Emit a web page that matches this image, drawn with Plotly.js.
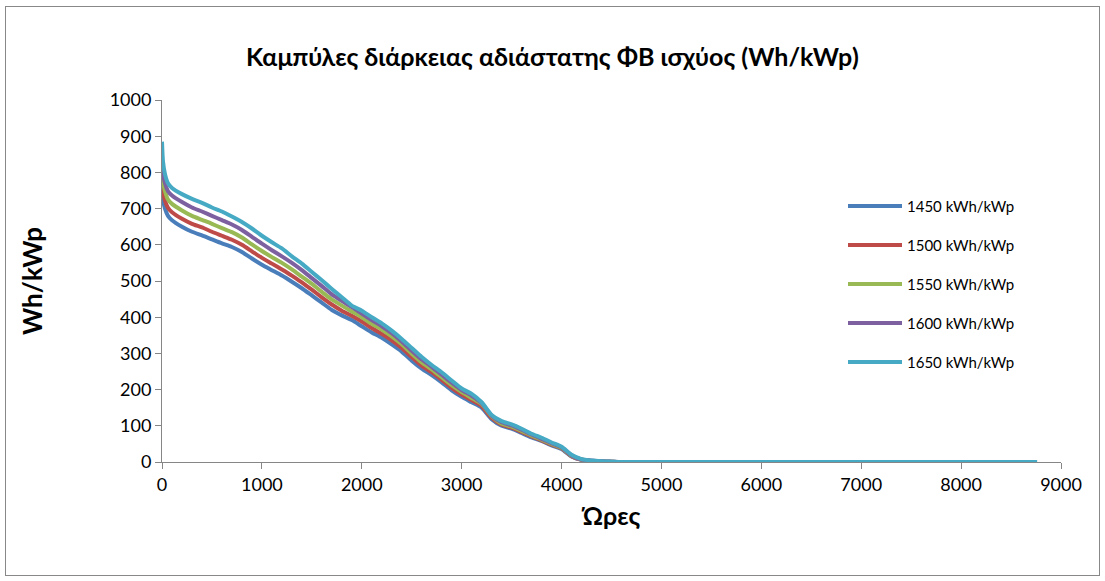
<!DOCTYPE html>
<html>
<head>
<meta charset="utf-8">
<script src="https://cdn.plot.ly/plotly-3.0.1.min.js"></script>
<style>
  html, body { margin: 0; padding: 0; background: #fff; }
  #wrap { position: relative; width: 1105px; height: 581px; }
  #chart { position: absolute; left: 0; top: 0; width: 1105px; height: 581px; }
  #frame { position: absolute; left: 5px; top: 6px; width: 1093px; height: 568px; border: 1px solid #888; pointer-events: none; }
</style>
</head>
<body>
<div id="wrap"><div id="chart"></div><div id="frame"></div></div>
<script>
const hours = [0,10,30,60,100,200,300,400,500,600,700,800,900,1000,1100,1200,1300,1400,1500,1600,1700,1800,1900,2000,2100,2200,2300,2400,2500,2600,2700,2800,2900,3000,3100,3200,3300,3400,3500,3600,3700,3800,3900,4000,4100,4200,4300,4400,4500,4600,5000,6000,7000,8000,8760];

const s1450 = [755,725,700,680,668,650,636,626,615,604,594,580,562,545,530,515,498,480,460,440,420,405,392,375,358,343,325,305,280,258,240,220,198,180,165,150,118,100,92,80,68,58,46,36,15,6,3,1.5,0.5,0,0,0,0,0,0];
const s1500 = [785,750,722,702,690,672,658,648,636,625,614,600,582,564,548,532,515,496,476,455,435,418,404,388,370,354,336,315,290,266,248,227,205,186,171,155,122,103,95,83,71,60,48,38,16,6,3,1.5,0.5,0,0,0,0,0,0];
const s1550 = [810,775,748,725,713,695,680,669,658,646,635,620,601,583,566,550,532,512,492,470,449,432,416,400,382,366,347,325,299,275,256,234,212,193,177,160,126,106,98,86,73,62,50,39,17,7,3,1.5,0.5,0,0,0,0,0,0];
const s1600 = [835,800,770,748,736,718,703,692,680,668,656,641,622,603,585,568,550,530,508,486,463,445,428,410,392,375,356,333,307,283,263,241,219,199,183,163,128,110,101,89,76,64,52,41,18,7,4,2,1,0,0,0,0,0,0];
const s1650 = [885,830,795,770,757,740,727,716,703,692,678,663,645,625,607,590,568,548,525,502,478,455,432,418,400,383,363,340,315,290,268,248,225,203,188,165,130,113,104,92,78,67,54,42,20,8,4,2,1,0,0,0,0,0,0];

const seriesNames = ["1450 kWh/kWp","1500 kWh/kWp","1550 kWh/kWp","1600 kWh/kWp","1650 kWh/kWp"];
const seriesValues = [s1450, s1500, s1550, s1600, s1650];
const colors = ["#4A7EBB","#BE4B48","#98B954","#7D60A0","#46AAC5"];

const xTicks = [0,1000,2000,3000,4000,5000,6000,7000,8000,9000];
const yTicks = [0,100,200,300,400,500,600,700,800,900,1000];

const titleText = "Καμπύλες διάρκειας αδιάστατης ΦΒ ισχύος (Wh/kWp)";
const xTitle = "Ώρες";
const yTitle = "Wh/kWp";

const FONT = "Lato, 'Open Sans', sans-serif";

const traces = seriesNames.map((n, i) => ({
  type: "scatter",
  mode: "lines",
  name: n,
  x: hours,
  y: seriesValues[i],
  legendgroup: "g" + i,
  line: { color: colors[i], width: 4, shape: "spline", smoothing: 0.6 },
  hoverinfo: "skip"
}));

const layout = {
  width: 1105,
  height: 581,
  margin: { l: 162, r: 44, t: 100, b: 119 },
  paper_bgcolor: "#fff",
  plot_bgcolor: "#fff",
  font: { family: FONT, size: 18, color: "#000" },
  title: {
    text: "<b>" + titleText + "</b>",
    font: { family: FONT, size: 25, color: "#000" },
    x: 0.5, xanchor: "center", xref: "container",
    y: 1 - 57 / 581, yanchor: "middle", yref: "container"
  },
  xaxis: {
    range: [0, 9000],
    tickvals: xTicks,
    ticks: "outside", ticklen: 6, tickcolor: "#868686", tickwidth: 1,
    showline: true, linecolor: "#868686", linewidth: 1,
    showgrid: false, zeroline: false,
    tickfont: { family: FONT, size: 18 },
    title: { text: "<b>" + xTitle + "</b>", font: { family: FONT, size: 25 }, standoff: 13 },
    fixedrange: true
  },
  yaxis: {
    range: [0, 1000],
    tickvals: yTicks,
    ticks: "outside", ticklen: 6, tickcolor: "#868686", tickwidth: 1,
    showline: true, linecolor: "#868686", linewidth: 1,
    showgrid: false, zeroline: false,
    tickfont: { family: FONT, size: 18 },
    title: { text: "<b>" + yTitle + "</b>", font: { family: FONT, size: 26 }, standoff: 59 },
    fixedrange: true
  },
  showlegend: true,
  legend: {
    x: (843 - 162) / 899, xanchor: "left",
    y: (463 - 190) / 363, yanchor: "top",
    font: { family: FONT, size: 15, color: "#000" },
    tracegroupgap: 16.5,
    itemwidth: 54,
    bgcolor: "rgba(0,0,0,0)"
  }
};

Plotly.newPlot("chart", traces, layout, { staticPlot: true, displayModeBar: false });
</script>
</body>
</html>
